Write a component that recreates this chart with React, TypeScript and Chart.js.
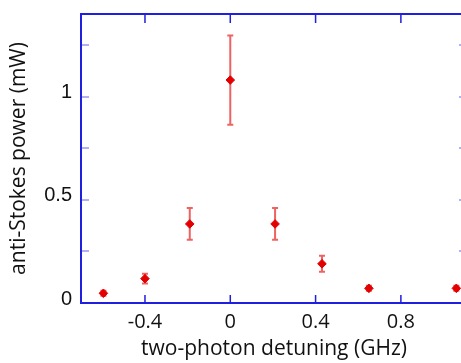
import React, { useEffect, useRef } from "react";
import { Chart, registerables } from "chart.js";

Chart.register(...registerables);

// Data
const xValues = [-0.595, -0.4, -0.19, 0, 0.21, 0.43, 0.65, 1.06];
const yValues = [0.047, 0.118, 0.383, 1.08, 0.383, 0.19, 0.071, 0.071];
const yErrors = [0.012, 0.024, 0.077, 0.216, 0.077, 0.039, 0.012, 0.012];

const xTickValues = [-0.4, 0, 0.4, 0.8];
const yLabelValues = [0, 0.5, 1];
const yTickMarkValues = [0, 0.25, 0.5, 0.75, 1, 1.25];
const xRange = [-0.7, 1.11];
const yRange = [0, 1.4];

const xTitle = "two-photon detuning (GHz)";
const yTitle = "anti-Stokes power (mW)";

const BLUE = "#1f1fe0";
const RED = "#e30000";
const ERR = "rgba(236, 70, 70, 0.85)";
const TEXT = "#111111";

const errorBarPlugin = {
  id: "errorBars",
  beforeDatasetsDraw(chart: any) {
    const { ctx } = chart;
    const xs = chart.scales.x;
    const ys = chart.scales.y;
    ctx.save();
    ctx.strokeStyle = ERR;
    ctx.lineWidth = 2;
    xValues.forEach((xv, i) => {
      const px = xs.getPixelForValue(xv);
      const top = ys.getPixelForValue(yValues[i] + yErrors[i]);
      const bot = ys.getPixelForValue(yValues[i] - yErrors[i]);
      ctx.beginPath();
      ctx.moveTo(px, top);
      ctx.lineTo(px, bot);
      ctx.moveTo(px - 3, top);
      ctx.lineTo(px + 3, top);
      ctx.moveTo(px - 3, bot);
      ctx.lineTo(px + 3, bot);
      ctx.stroke();
    });
    ctx.restore();
  },
  afterDraw(chart: any) {
    const { ctx, chartArea } = chart;
    const xs = chart.scales.x;
    const ys = chart.scales.y;
    const { left, right, top, bottom } = chartArea;
    ctx.save();
    ctx.strokeStyle = BLUE;
    // tick marks, pointing inward
    ctx.lineWidth = 1.5;
    xTickValues.forEach((v) => {
      const px = xs.getPixelForValue(v);
      ctx.beginPath();
      ctx.moveTo(px, bottom);
      ctx.lineTo(px, bottom - 8);
      ctx.moveTo(px, top);
      ctx.lineTo(px, top + 9);
      ctx.stroke();
    });
    ctx.lineWidth = 1;
    ctx.strokeStyle = "rgba(31,31,224,0.7)";
    yTickMarkValues.forEach((v) => {
      const py = Math.round(ys.getPixelForValue(v));
      ctx.beginPath();
      ctx.moveTo(left, py);
      ctx.lineTo(left + 8, py);
      ctx.moveTo(right, py);
      ctx.lineTo(right - 8, py);
      ctx.stroke();
    });
    // box
    ctx.strokeStyle = BLUE;
    ctx.lineWidth = 2;
    ctx.strokeRect(left, top, right - left, bottom - top);
    ctx.restore();
  },
};

export default function App() {
  const ref = useRef<HTMLCanvasElement | null>(null);

  useEffect(() => {
    document.body.style.margin = "0";
    if (!ref.current) return;
    const chart = new Chart(ref.current, {
      type: "scatter",
      data: {
        datasets: [
          {
            data: xValues.map((x, i) => ({ x, y: yValues[i] })),
            pointStyle: "rectRot",
            pointRadius: 4.3,
            pointHoverRadius: 4.3,
            backgroundColor: RED,
            borderColor: RED,
            borderWidth: 1,
            showLine: false,
          },
        ],
      },
      options: {
        animation: false,
        responsive: false,
        events: [],
        layout: { padding: { top: 14, right: 13, left: 0, bottom: 0 } },
        plugins: {
          legend: { display: false },
          tooltip: { enabled: false },
        },
        scales: {
          x: {
            type: "linear",
            min: xRange[0],
            max: xRange[1],
            grid: { display: false, drawTicks: false },
            border: { display: false },
            afterBuildTicks: (s: any) => {
              s.ticks = xTickValues.map((v) => ({ value: v }));
            },
            afterFit: (s: any) => {
              s.height = 60;
              s.paddingLeft = 0;
              s.paddingRight = 0;
            },
            ticks: {
              padding: 7,
              color: TEXT,
              font: { family: "'Open Sans'", size: 20 },
              callback: (v: any) => String(v),
            },
            title: {
              display: true,
              text: xTitle,
              color: TEXT,
              font: { family: "'Open Sans'", size: 21 },
              padding: { top: 0, bottom: 1 },
            },
          },
          y: {
            type: "linear",
            min: yRange[0],
            max: yRange[1],
            grid: { display: false, drawTicks: false },
            border: { display: false },
            afterBuildTicks: (s: any) => {
              s.ticks = yLabelValues.map((v) => ({ value: v }));
            },
            afterFit: (s: any) => {
              s.width = 81;
              s.paddingTop = 0;
              s.paddingBottom = 0;
            },
            ticks: {
              padding: 9,
              labelOffset: -4,
              color: TEXT,
              font: { family: "'Liberation Sans'", size: 20 },
              callback: (v: any) => String(v),
            },
            title: {
              display: true,
              text: yTitle,
              color: TEXT,
              font: { family: "'Open Sans'", size: 21 },
              padding: { top: 6, bottom: 0 },
            },
          },
        },
      },
      plugins: [errorBarPlugin],
    });
    return () => chart.destroy();
  }, []);

  return (
    <div style={{ width: 461, height: 363, overflow: "hidden", position: "relative", background: "#fff" }}>
      <canvas ref={ref} width={480} height={363} style={{ display: "block", width: 480, height: 363 }} />
    </div>
  );
}
